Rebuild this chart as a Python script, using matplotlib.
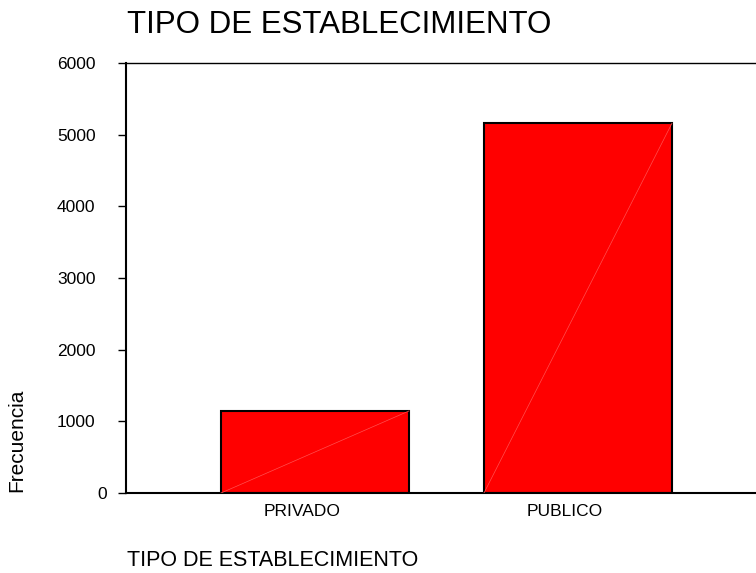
import matplotlib
matplotlib.use('Agg')
import matplotlib.pyplot as plt
from matplotlib.transforms import ScaledTranslation
import numpy as np

plt.rcParams['font.family'] = ['Liberation Sans', 'DejaVu Sans']

# data
categories = ['PRIVADO', 'PUBLICO']
frecuencia = [1145, 5160]
yticks = [0, 1000, 2000, 3000, 4000, 5000, 6000]

fig = plt.figure(figsize=(7.56, 5.73), dpi=100)
ax = fig.add_axes([126/756, 1 - 493/573, 1 - 126/756, (493 - 63)/573])

x = np.arange(len(categories))
width = 0.715
ax.bar(x, frecuencia, width=width, color='#ff0000', edgecolor='black', linewidth=1.5, zorder=2)
# thin diagonal seam inside each bar
for xi, v in zip(x, frecuencia):
    ax.plot([xi - width/2, xi + width/2], [0, v], color='#ff5050', linewidth=0.5, zorder=3)

ax.set_xlim(-0.719, 1.677)
ax.set_ylim(0, 6000)
ax.set_yticks(yticks)
ax.set_yticklabels([str(t) for t in yticks], fontsize=12.5)
ax.set_xticks(x)
ax.set_xticklabels(categories, fontsize=12.5)
ax.tick_params(axis='y', direction='out', length=6, width=1, pad=16)
ax.tick_params(axis='x', direction='in', length=3, width=1, pad=8)

# SPSS-style label offsets
for lbl in ax.get_xticklabels():
    lbl.set_transform(lbl.get_transform() + ScaledTranslation(-0.13, 0, fig.dpi_scale_trans))
lbl0 = ax.get_yticklabels()[0]
lbl0.set_transform(lbl0.get_transform() + ScaledTranslation(0.12, 0, fig.dpi_scale_trans))

ax.spines['right'].set_visible(False)
ax.spines['left'].set_linewidth(1.5)
ax.spines['bottom'].set_linewidth(1.5)
ax.spines['top'].set_linewidth(1.0)

fig.text(127/756, 1 - 25/573, 'TIPO DE ESTABLECIMIENTO', fontsize=22.5, va='center', ha='left')
fig.text(127/756, 1 - 561/573, 'TIPO DE ESTABLECIMIENTO', fontsize=15.5, va='center', ha='left')
fig.text(17/756, 1 - 440/573, 'Frecuencia', fontsize=15, va='center', ha='center', rotation=90)

fig.savefig('out.png', dpi=100)
